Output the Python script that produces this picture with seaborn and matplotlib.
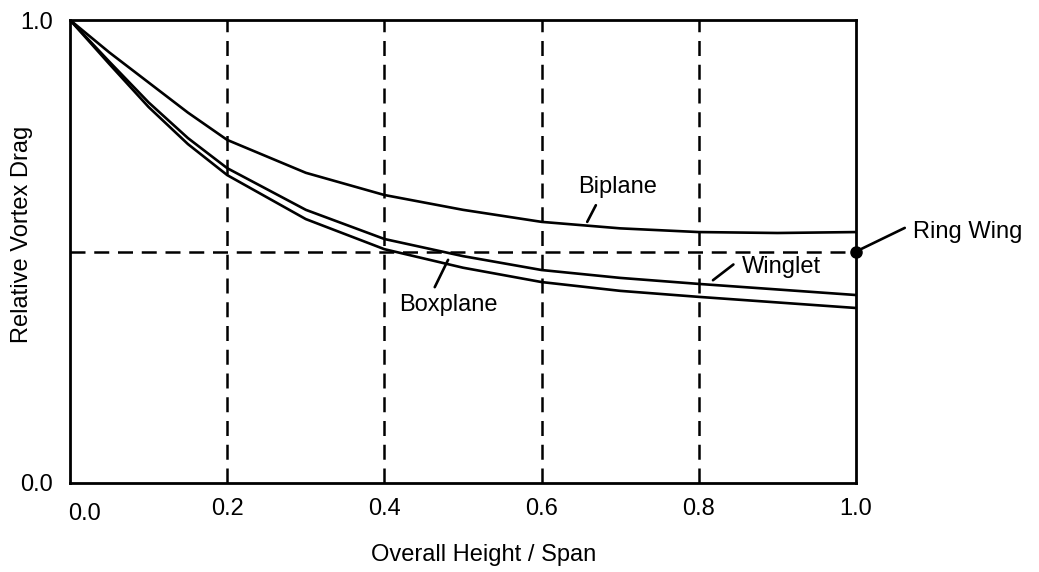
import numpy as np
import pandas as pd
import seaborn as sns
from matplotlib import pyplot as plt
from matplotlib.transforms import ScaledTranslation

# values
height_span = [0.0, 0.05, 0.1, 0.15, 0.2, 0.3, 0.4, 0.5, 0.6, 0.7, 0.8, 0.9, 1.0]
biplane = [1.0, 0.93, 0.865, 0.80, 0.741, 0.67, 0.622, 0.59, 0.564, 0.55, 0.542, 0.540, 0.542]
winglet = [1.0, 0.91, 0.822, 0.745, 0.680, 0.59, 0.527, 0.49, 0.460, 0.443, 0.430, 0.418, 0.406]
boxplane = [1.0, 0.905, 0.812, 0.732, 0.665, 0.57, 0.505, 0.465, 0.434, 0.415, 0.402, 0.390, 0.378]
ring_wing_x = 1.0
ring_wing = 0.5

grid_x = [0.2, 0.4, 0.6, 0.8]
x_ticks = [0.0, 0.2, 0.4, 0.6, 0.8, 1.0]
y_ticks = [0.0, 1.0]

df = pd.DataFrame(
    {
        "h": height_span * 3,
        "drag": biplane + winglet + boxplane,
        "config": ["Biplane"] * len(height_span)
        + ["Winglet"] * len(height_span)
        + ["Boxplane"] * len(height_span),
    }
)

sns.set_style("white")
plt.rcParams["font.family"] = ["Liberation Sans", "DejaVu Sans"]
for key in ["text.color", "axes.labelcolor", "xtick.color", "ytick.color"]:
    plt.rcParams[key] = "black"

FS = 17

fig = plt.figure(figsize=(10.39, 5.72), dpi=100)
ax = fig.add_axes([0.0674, 0.1556, 0.7565, 0.8094])

dash = (6, 3.5)
for gx in grid_x:
    ax.axvline(gx, color="black", lw=1.8, dashes=dash, zorder=1)
ax.plot([0, ring_wing_x], [ring_wing, ring_wing], color="black", lw=1.8, dashes=dash, zorder=1)

sns.lineplot(
    data=df,
    x="h",
    y="drag",
    hue="config",
    palette=["black", "black", "black"],
    linewidth=1.9,
    legend=False,
    ax=ax,
    zorder=3,
)

ax.plot([ring_wing_x], [ring_wing], "o", color="black", ms=8, clip_on=False, zorder=5)

lead = dict(arrowstyle="-", color="black", lw=1.9, shrinkA=0, shrinkB=0)
ax.annotate("", xy=(0.658, 0.564), xytext=(0.669, 0.600), arrowprops=lead)
ax.text(0.697, 0.639, "Biplane", fontsize=FS, ha="center", va="center")
ax.annotate("", xy=(0.481, 0.482), xytext=(0.464, 0.423), arrowprops=lead)
ax.text(0.481, 0.384, "Boxplane", fontsize=FS, ha="center", va="center")
ax.annotate("", xy=(0.818, 0.438), xytext=(0.844, 0.472), arrowprops=lead)
ax.text(0.905, 0.466, "Winglet", fontsize=FS, ha="center", va="center")
ax.annotate("", xy=(ring_wing_x, ring_wing), xytext=(1.062, 0.551),
            arrowprops=lead, annotation_clip=False)
ax.text(1.142, 0.543, "Ring Wing", fontsize=FS, ha="center", va="center", clip_on=False)

ax.set_xlim(0, 1)
ax.set_ylim(0, 1)
ax.set_xticks(x_ticks)
ax.set_xticklabels([f"{v:.1f}" for v in x_ticks])
ax.set_yticks(y_ticks)
ax.set_yticklabels([f"{v:.1f}" for v in y_ticks])
ax.tick_params(axis="both", length=0, labelsize=FS)
ax.tick_params(axis="x", pad=11)
ax.tick_params(axis="y", pad=12)
first = ax.get_xticklabels()[0]
first.set_transform(first.get_transform() + ScaledTranslation(0.14, -0.05, fig.dpi_scale_trans))
ax.set_xlabel("")
ax.set_ylabel("")
fig.text(484 / 1039, 1 - 555 / 572, "Overall Height / Span", fontsize=FS,
         ha="center", va="center")
fig.text(22 / 1039, 1 - 234 / 572, "Relative Vortex Drag", fontsize=FS,
         ha="center", va="center", rotation=90)
for sp in ax.spines.values():
    sp.set_color("black")
    sp.set_linewidth(2)
    sp.set_visible(True)

fig.savefig("out.png", dpi=100)
